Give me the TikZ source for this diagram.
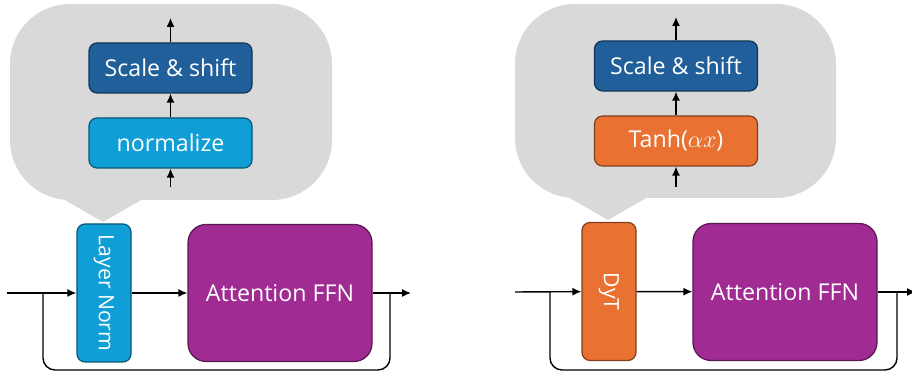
\documentclass[tikz,border=0pt]{standalone}
\usepackage{fontspec}
\setmainfont{Open Sans}
\usetikzlibrary{arrows.meta}

\definecolor{calloutgray}{HTML}{D9D9D9}
\definecolor{scaleblue}{HTML}{215F9A}
\definecolor{normcyan}{HTML}{0F9ED5}
\definecolor{dytorange}{HTML}{E97132}
\definecolor{ffnpurple}{HTML}{A02B93}

\tikzset{
  box/.style={draw=#1!55!black, fill=#1, line width=0.6pt, rounded corners=4pt,
              text=white, font=\fontsize{11.6}{13}\selectfont, inner sep=0pt},
  smallbox/.style={box=#1, minimum width=81.5, minimum height=25},
  bigbox/.style={box=#1, minimum width=92, minimum height=68.5, rounded corners=9pt,
                 font=\fontsize{11.6}{14}\selectfont},
  thinbox/.style={box=#1, minimum width=27, minimum height=69},
  vlabel/.style={rotate=-90, text=white, font=\fontsize{10.6}{13}\selectfont},
  flow/.style={line width=0.7pt, -{Latex[length=4.5pt,width=4pt]}},
  wire/.style={line width=0.7pt, rounded corners=6pt},
  callout/.style={fill=calloutgray, draw=none}
}

\begin{document}
\begin{tikzpicture}[x=0.5pt, y=0.5pt]
  \useasboundingbox (0,0) rectangle (912,373);

  % left: layer norm
  \begin{scope}
    \fill[callout, rounded corners=30] (10,173) rectangle (332,369);
    \fill[callout] (63,174) -- (103,151) -- (143,174) -- cycle;
    \node[smallbox=scaleblue] (scale-l) at (170.5,305) {Scale \& shift};
    \node[smallbox=normcyan] (norm-l) at (170.5,230) {normalize};
    \coordinate (top-l) at (170.5,355);
    \coordinate (bot-l) at (170.5,186);
    \draw[flow] (scale-l) -- (top-l);
    \draw[flow] (norm-l) -- (scale-l);
    \draw[flow] (bot-l) -- (norm-l);

    \node[thinbox=normcyan] (ln) at (104,80) {};
    \node[vlabel] (ln-text) at (ln.center) {Layer Norm};
    \node[bigbox=ffnpurple] (ffn-l) at (280,80) {Attention FFN};
    \coordinate (in-l) at (7,80);
    \coordinate (out-l) at (411,80);
    \draw[flow] (in-l) -- (ln);
    \draw[flow] (ln) -- (ffn-l);
    \draw[flow] (ffn-l) -- (out-l);
    \draw[wire] (43,80) -- (43,3) -- (390,3) -- (390,80);
  \end{scope}

  % right: dyt
  \begin{scope}[shift={(505,0)}]
    \fill[callout, rounded corners=30] (10,175) rectangle (331,369);
    \fill[callout] (63,176) -- (103,153) -- (143,176) -- cycle;
    \node[smallbox=scaleblue] (scale-r) at (171,307) {Scale \& shift};
    \node[smallbox=dytorange] (tanh) at (171,232) {Tanh($\alpha x$)};
    \coordinate (top-r) at (171,356);
    \coordinate (bot-r) at (171,186);
    \draw[flow] (scale-r) -- (top-r);
    \draw[flow] (tanh) -- (scale-r);
    \draw[flow] (bot-r) -- (tanh);

    \node[thinbox=dytorange] (dyt) at (104,81.5) {};
    \node[vlabel] (dyt-text) at (dyt.center) {DyT};
    \node[bigbox=ffnpurple] (ffn-r) at (280,81) {Attention FFN};
    \coordinate (in-r) at (10,81);
    \coordinate (out-r) at (411,81);
    \draw[flow] (in-r) -- (dyt);
    \draw[flow] (dyt) -- (ffn-r);
    \draw[flow] (ffn-r) -- (out-r);
    \draw[wire] (45,81) -- (45,3) -- (392,3) -- (392,81);
  \end{scope}
\end{tikzpicture}
\end{document}
